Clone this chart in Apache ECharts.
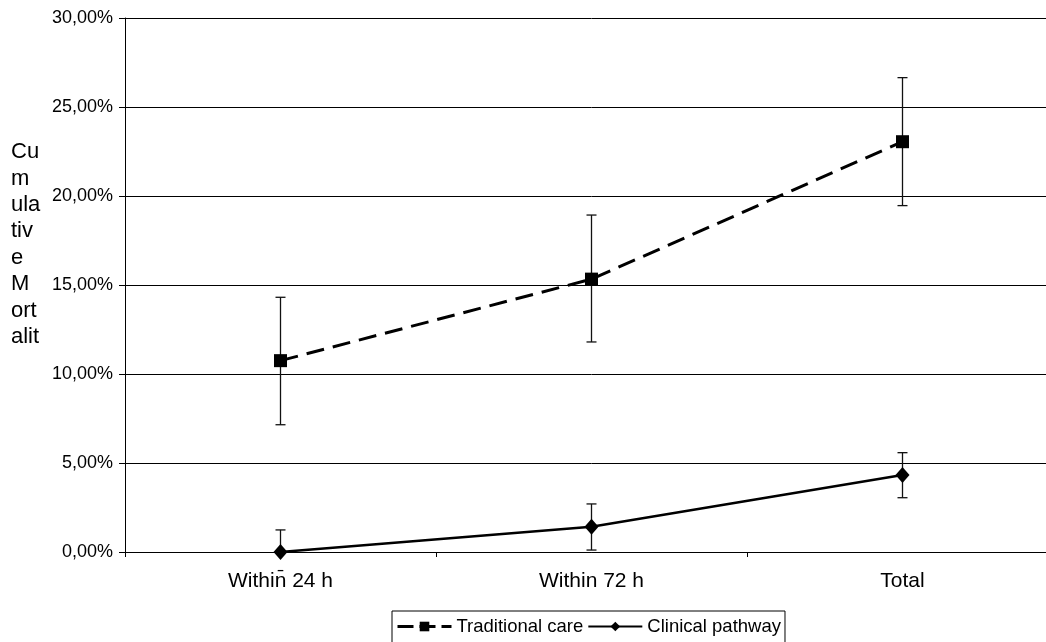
<!DOCTYPE html>
<html>
<head>
<meta charset="utf-8">
<script src="https://cdn.jsdelivr.net/npm/echarts@6/dist/echarts.min.js"></script>
<style>html,body{margin:0;padding:0;background:#fff;overflow:hidden;}#c{width:1058px;height:642px;}</style>
</head>
<body>
<div id="c"></div>
<script>
const categories = ['Within\u0304 24 h', 'Within 72 h', 'Total'];
const tradValues = [10.75, 15.33, 23.05];
const tradLow = [7.15, 11.80, 19.46];
const tradHigh = [14.31, 18.93, 26.65];
const clinValues = [0, 1.42, 4.33];
const clinLow = [0, 0.11, 3.05];
const clinHigh = [1.24, 2.70, 5.58];
const yTicks = [0, 5, 10, 15, 20, 25, 30];

const FONT = 'Liberation Sans, Arial, sans-serif';

function errData(low, high) {
  return categories.map((c, i) => [i, low[i], high[i]]);
}
function errRender(params, api) {
  const x = api.value(0);
  const lo = api.coord([x, api.value(1)]);
  const hi = api.coord([x, api.value(2)]);
  const cw = 5;
  const style = { stroke: '#111', lineWidth: 1.3, fill: null };
  return {
    type: 'group',
    children: [
      { type: 'line', shape: { x1: hi[0], y1: hi[1], x2: lo[0], y2: lo[1] }, style },
      { type: 'line', shape: { x1: hi[0] - cw, y1: hi[1], x2: hi[0] + cw, y2: hi[1] }, style },
      { type: 'line', shape: { x1: lo[0] - cw, y1: lo[1], x2: lo[0] + cw, y2: lo[1] }, style }
    ]
  };
}

const chart = echarts.init(document.getElementById('c'), null, { renderer: 'canvas' });
chart.setOption({
  animation: false,
  backgroundColor: '#fff',
  textStyle: { fontFamily: FONT },
  grid: { left: 125, top: 18, right: 0, height: 534, containLabel: false },
  graphic: [{
    type: 'text', left: 11, top: 139,
    style: { text: 'Cu\nm\nula\ntiv\ne\nM\nort\nalit', font: '22px ' + FONT, fill: '#000', lineHeight: 26.4 }
  }],
  legend: {
    left: 392, top: 611,
    borderColor: '#000', borderWidth: 1,
    padding: [6, 4, 12, 4],
    itemWidth: 54, itemHeight: 12, itemGap: 4,
    textStyle: { fontFamily: FONT, fontSize: 18.5, color: '#000' },
    data: [
      { name: 'Traditional care', lineStyle: { type: [16, 6], width: 3 } },
      { name: 'Clinical pathway' }
    ]
  },
  xAxis: {
    type: 'category',
    data: categories,
    boundaryGap: true,
    axisLine: { lineStyle: { color: '#000', width: 1 } },
    axisTick: { show: true, length: 5, lineStyle: { color: '#000' } },
    axisLabel: { fontFamily: FONT, fontSize: 21, color: '#000', margin: 19 },
    splitLine: { show: false }
  },
  yAxis: {
    type: 'value',
    min: 0, max: 30, interval: 5,
    axisLine: { show: true, lineStyle: { color: '#000', width: 1 } },
    axisTick: { show: true, length: 6, lineStyle: { color: '#000' } },
    axisLabel: {
      fontFamily: FONT, fontSize: 18, color: '#000', margin: 12,
      formatter: v => yTicks.includes(v) ? v.toFixed(2).replace('.', ',') + '%' : ''
    },
    splitLine: { show: true, lineStyle: { color: '#000', width: 1 } }
  },
  series: [
    {
      name: 'Traditional care', type: 'line', data: tradValues,
      symbol: 'rect', symbolSize: 13,
      itemStyle: { color: '#000' },
      lineStyle: { color: '#000', width: 3, type: [18, 9] },
      z: 3
    },
    {
      name: 'Clinical pathway', type: 'line', data: clinValues,
      symbol: 'diamond', symbolSize: [14, 16],
      itemStyle: { color: '#000' },
      lineStyle: { color: '#000', width: 2.5, type: 'solid' },
      z: 3
    },
    {
      type: 'custom', name: 'errT', data: errData(tradLow, tradHigh),
      renderItem: errRender, z: 2, silent: true, encode: { x: 0, y: [1, 2] }
    },
    {
      type: 'custom', name: 'errC', data: errData(clinLow, clinHigh),
      renderItem: errRender, z: 2, silent: true, encode: { x: 0, y: [1, 2] }
    }
  ]
});
</script>
</body>
</html>
